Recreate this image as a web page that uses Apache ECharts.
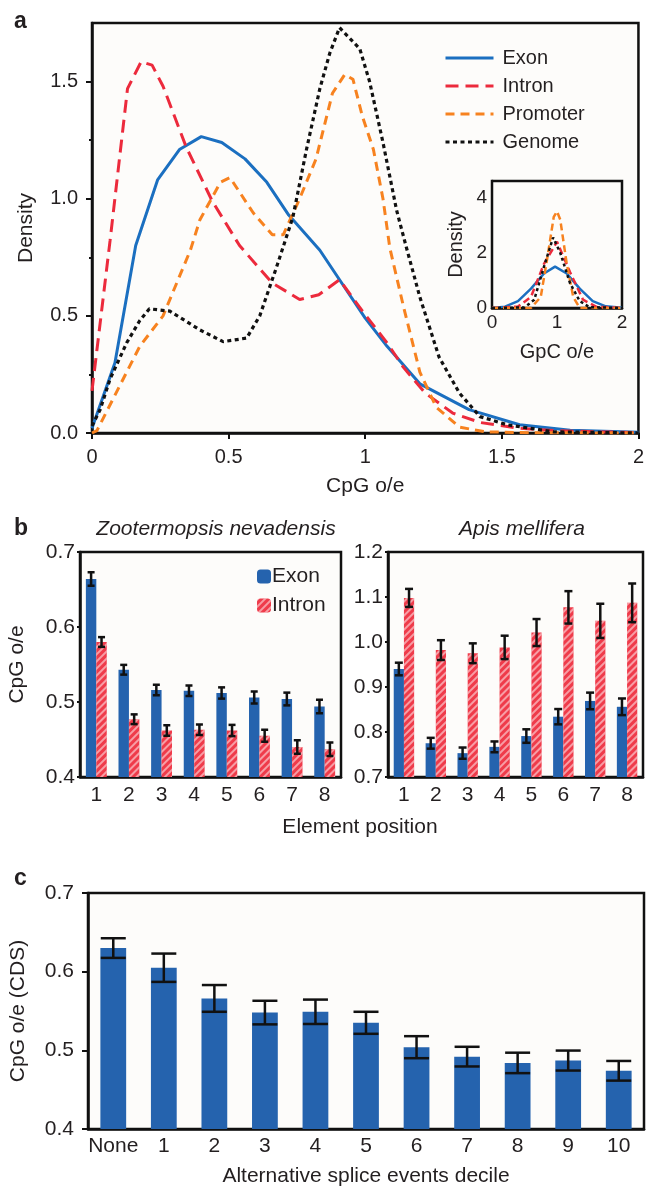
<!DOCTYPE html>
<html>
<head>
<meta charset="utf-8">
<script src="https://cdn.jsdelivr.net/npm/echarts@6/dist/echarts.min.js"></script>
<style>
html, body { margin: 0; padding: 0; background: #fff; }
#myChart { width: 647px; height: 1188px; }
</style>
</head>
<body>
<div id="myChart"></div>
<script>
// ---- panel a: density of CpG o/e, pairs [CpG o/e, density]
const exonCurve = [[0, 0.02], [0.084, 0.30], [0.16, 0.80], [0.24, 1.08], [0.32, 1.21], [0.40, 1.265], [0.475, 1.24], [0.56, 1.17], [0.64, 1.07], [0.72, 0.93], [0.834, 0.78], [0.906, 0.654], [1.0, 0.49], [1.08, 0.37], [1.2, 0.21], [1.38, 0.10], [1.565, 0.035], [1.75, 0.012], [2, 0.003]];
const intronCurve = [[0, 0.18], [0.066, 0.82], [0.13, 1.47], [0.18, 1.585], [0.22, 1.57], [0.26, 1.48], [0.345, 1.22], [0.44, 0.99], [0.54, 0.80], [0.66, 0.64], [0.76, 0.57], [0.83, 0.59], [0.906, 0.654], [0.99, 0.52], [1.08, 0.385], [1.14, 0.28], [1.22, 0.17], [1.32, 0.085], [1.42, 0.045], [1.565, 0.02], [1.7, 0.01], [1.85, 0.005], [2, 0.002]];
const promoterCurve = [[0, 0], [0.018, 0.01], [0.175, 0.37], [0.26, 0.50], [0.36, 0.78], [0.395, 0.91], [0.47, 1.07], [0.505, 1.09], [0.59, 0.94], [0.66, 0.846], [0.70, 0.846], [0.76, 1.0], [0.82, 1.17], [0.88, 1.45], [0.925, 1.53], [0.955, 1.51], [0.99, 1.35], [1.03, 1.21], [1.065, 1.0], [1.09, 0.79], [1.14, 0.54], [1.20, 0.26], [1.26, 0.11], [1.345, 0.025], [1.44, 0.005], [1.6, 0.001], [2, 0]];
const genomeCurve = [[0, 0.03], [0.03, 0.1], [0.066, 0.23], [0.127, 0.385], [0.175, 0.48], [0.21, 0.53], [0.285, 0.52], [0.395, 0.44], [0.48, 0.39], [0.566, 0.405], [0.614, 0.50], [0.676, 0.71], [0.735, 0.92], [0.785, 1.21], [0.834, 1.47], [0.87, 1.62], [0.906, 1.73], [0.98, 1.64], [1.016, 1.50], [1.065, 1.24], [1.115, 0.95], [1.15, 0.795], [1.2, 0.58], [1.27, 0.325], [1.345, 0.17], [1.42, 0.07], [1.52, 0.035], [1.69, 0.005], [2, 0]];

// inset: density of GpC o/e
const exonGpc = [[0, 0], [0.2, 0.05], [0.4, 0.25], [0.6, 0.7], [0.8, 1.25], [0.97, 1.5], [1.15, 1.25], [1.35, 0.7], [1.55, 0.25], [1.75, 0.06], [2, 0.01]];
const intronGpc = [[0, 0], [0.4, 0.05], [0.6, 0.4], [0.8, 1.6], [1.0, 2.4], [1.2, 1.3], [1.4, 0.3], [1.6, 0.05], [2, 0]];
const promoterGpc = [[0, 0], [0.6, 0], [0.75, 0.4], [0.85, 1.8], [0.95, 3.3], [1.0, 3.5], [1.05, 3.2], [1.15, 1.6], [1.25, 0.4], [1.35, 0], [2, 0]];
const genomeGpc = [[0, 0], [0.5, 0.02], [0.65, 0.3], [0.8, 1.5], [0.94, 2.55], [1.05, 2.0], [1.2, 0.9], [1.35, 0.25], [1.5, 0.03], [2, 0]];

const densityTicks = [0, 0.5, 1, 1.5];
const densityMinorTicks = [0.25, 0.75, 1.25];
const insetTicks = [0, 2, 4];

// ---- panel b: CpG o/e by element position
const positions = ['1', '2', '3', '4', '5', '6', '7', '8'];
const zooExon = [0.664, 0.543, 0.516, 0.515, 0.512, 0.506, 0.504, 0.494];
const zooExonErr = [0.009, 0.0065, 0.007, 0.007, 0.0075, 0.008, 0.0085, 0.009];
const zooIntron = [0.580, 0.477, 0.462, 0.463, 0.462, 0.455, 0.440, 0.437];
const zooIntronErr = [0.0065, 0.0065, 0.007, 0.007, 0.0075, 0.008, 0.009, 0.009];
const apisExon = [0.940, 0.775, 0.753, 0.767, 0.791, 0.834, 0.869, 0.856];
const apisExonErr = [0.014, 0.012, 0.0125, 0.012, 0.015, 0.017, 0.0185, 0.0185];
const apisIntron = [1.098, 0.982, 0.975, 0.988, 1.021, 1.077, 1.047, 1.087];
const apisIntronErr = [0.02, 0.022, 0.022, 0.026, 0.03, 0.036, 0.038, 0.043];

// ---- panel c: CpG o/e (CDS) by alternative splice decile
const deciles = ['None', '1', '2', '3', '4', '5', '6', '7', '8', '9', '10'];
const cdsValues = [0.630, 0.605, 0.566, 0.548, 0.549, 0.535, 0.504, 0.492, 0.484, 0.487, 0.474];
const cdsErr = [0.0125, 0.018, 0.017, 0.015, 0.0155, 0.014, 0.014, 0.0125, 0.013, 0.0127, 0.0125];

const ink = '#231f20';
const font = 'Liberation Sans, Arial, sans-serif';
const colors = { exon: '#1b6fc0', intron: '#ec2a3c', promoter: '#f7821f', genome: '#111111', bar: '#2563ae', hatch: '#ef3b4a' };
const hatch = { symbol: 'rect', symbolSize: 1, dashArrayX: [1, 0], dashArrayY: [2, 3], rotation: -Math.PI / 4, color: 'rgba(255,255,255,0.5)' };

// 误差线 (custom series)
function errorBars (xi, yi, vals, errs, offset, capW) {
  return {
    type: 'custom',
    xAxisIndex: xi,
    yAxisIndex: yi,
    z: 5,
    silent: true,
    data: vals.map((v, i) => [i, v - errs[i], v + errs[i]]),
    renderItem (params, api) {
      const lo = api.coord([api.value(0), api.value(1)]);
      const hi = api.coord([api.value(0), api.value(2)]);
      const band = api.size([1, 0])[0];
      const x = lo[0] + offset * band;
      const style = { stroke: '#111', lineWidth: 2.5 };
      return {
        type: 'group',
        children: [
          { type: 'line', shape: { x1: x, y1: lo[1], x2: x, y2: hi[1] }, style },
          { type: 'line', shape: { x1: x - capW / 2, y1: lo[1], x2: x + capW / 2, y2: lo[1] }, style },
          { type: 'line', shape: { x1: x - capW / 2, y1: hi[1], x2: x + capW / 2, y2: hi[1] }, style }
        ]
      };
    }
  };
}

function lineSeries (name, data, color, dash, xi, yi, width) {
  return {
    name,
    type: 'line',
    xAxisIndex: xi,
    yAxisIndex: yi,
    data,
    symbol: 'none',
    showSymbol: false,
    color,
    lineStyle: { color, width: width, type: dash, cap: 'butt' }
  };
}

const axisLine = { show: true, onZero: false, lineStyle: { color: '#111', width: 2.5 } };
const label = (size, margin) => ({ color: ink, fontSize: size, fontFamily: font, margin });
const nameStyle = (size) => ({ color: ink, fontSize: size, fontFamily: font });
const gridBox = { show: true, backgroundColor: '#fdfcfa', borderColor: '#111', borderWidth: 2.5 };
const plainTitle = { fontWeight: 'normal', color: ink, fontFamily: font };

let myChart = echarts.init(document.getElementById('myChart'));
let option = {
  animation: false,
  backgroundColor: '#ffffff',
  textStyle: { fontFamily: font },
  title: [
    { text: 'a', left: 9, top: 5, textStyle: { fontSize: 23, fontWeight: 'bold', color: ink, fontFamily: font } },
    { text: 'b', left: 9, top: 512, textStyle: { fontSize: 23, fontWeight: 'bold', color: ink, fontFamily: font } },
    { text: 'c', left: 9, top: 862, textStyle: { fontSize: 23, fontWeight: 'bold', color: ink, fontFamily: font } },
    { text: 'Zootermopsis nevadensis', left: 211, top: 514, textAlign: 'center', textStyle: Object.assign({ fontSize: 21, fontStyle: 'italic' }, plainTitle) },
    { text: 'Apis mellifera', left: 517, top: 514, textAlign: 'center', textStyle: Object.assign({ fontSize: 21, fontStyle: 'italic' }, plainTitle) },
    { text: 'Element position', left: 355, top: 812, textAlign: 'center', textStyle: Object.assign({ fontSize: 21 }, plainTitle) }
  ],
  legend: [
    {
      data: ['Exon', 'Intron', 'Promoter', 'Genome'],
      orient: 'vertical',
      left: 439,
      top: 43,
      itemWidth: 48,
      itemHeight: 18,
      itemGap: 8,
      selectedMode: false,
      itemStyle: { opacity: 0 },
      lineStyle: { width: 3 },
      textStyle: { color: ink, fontSize: 20, fontFamily: font, padding: [0, 0, 0, 4] }
    },
    {
      data: ['Exon|b', 'Intron|b'],
      orient: 'vertical',
      left: 252,
      top: 561,
      itemWidth: 14,
      itemHeight: 14,
      itemGap: 8,
      selectedMode: false,
      formatter: (n) => n.split('|')[0],
      textStyle: { color: ink, fontSize: 21, fontFamily: font, padding: [0, 0, 0, -4] }
    }
  ],
  grid: [
    Object.assign({ left: 92, top: 23, width: 547, height: 410 }, gridBox),
    Object.assign({ left: 492, top: 181, width: 130, height: 127, z: 3 }, gridBox),
    Object.assign({ left: 80, top: 552, width: 261, height: 225 }, gridBox),
    Object.assign({ left: 388, top: 552, width: 255, height: 225 }, gridBox),
    Object.assign({ left: 88, top: 893, width: 556, height: 239 }, gridBox)
  ],
  xAxis: [
    {
      gridIndex: 0, type: 'value', min: 0, max: 2, interval: 0.5,
      name: 'CpG o/e', nameLocation: 'middle', nameGap: 43, nameTextStyle: nameStyle(21),
      axisLine, axisTick: { show: true, length: 6, lineStyle: { color: '#111', width: 2 } },
      axisLabel: label(20, 14), splitLine: { show: false }
    },
    {
      gridIndex: 1, type: 'value', min: 0, max: 2, interval: 1,
      name: 'GpC o/e', nameLocation: 'middle', nameGap: 34, nameTextStyle: nameStyle(20),
      axisLine, axisTick: { show: true, inside: true, length: 3, lineStyle: { color: '#111', width: 1.5 } },
      minorTick: { show: true, splitNumber: 2, length: 3, lineStyle: { color: '#111', width: 1.5 } },
      axisLabel: label(19, 5), splitLine: { show: false }
    },
    {
      gridIndex: 2, type: 'category', data: positions,
      axisLine, axisTick: { show: false }, axisLabel: label(21, 8)
    },
    {
      gridIndex: 3, type: 'category', data: positions,
      axisLine, axisTick: { show: false }, axisLabel: label(21, 8)
    },
    {
      gridIndex: 4, type: 'category', data: deciles,
      name: 'Alternative splice events decile', nameLocation: 'middle', nameGap: 37, nameTextStyle: nameStyle(21),
      axisLine, axisTick: { show: false }, axisLabel: Object.assign(label(21, 7), { interval: 0 })
    }
  ],
  yAxis: [
    {
      gridIndex: 0, type: 'value', min: 0, max: 1.75,
      name: 'Density', nameLocation: 'middle', nameGap: 55, nameTextStyle: nameStyle(21),
      axisLine,
      axisTick: { show: true, length: 6, customValues: densityTicks, lineStyle: { color: '#111', width: 2 } },
      axisLabel: Object.assign(label(20, 14), { customValues: densityTicks, formatter: (v) => v.toFixed(1) }),
      splitLine: { show: false }
    },
    {
      gridIndex: 0, type: 'value', min: 0, max: 1.75, position: 'left',
      axisLine: { show: false },
      axisTick: { show: true, length: 3, customValues: densityMinorTicks, lineStyle: { color: '#111', width: 2 } },
      axisLabel: { show: false }, splitLine: { show: false }
    },
    {
      gridIndex: 1, type: 'value', min: 0, max: 4.6,
      name: 'Density', nameLocation: 'middle', nameGap: 26, nameTextStyle: nameStyle(20),
      axisLine,
      axisTick: { show: true, inside: true, length: 3, customValues: insetTicks, lineStyle: { color: '#111', width: 1.5 } },
      axisLabel: Object.assign(label(19, 5), { customValues: insetTicks }),
      splitLine: { show: false }
    },
    {
      gridIndex: 2, type: 'value', min: 0.4, max: 0.7, interval: 0.1,
      name: 'CpG o/e', nameLocation: 'middle', nameGap: 52, nameTextStyle: nameStyle(21),
      axisLine, axisTick: { show: true, length: 3, lineStyle: { color: '#111', width: 2 } },
      axisLabel: Object.assign(label(21, 5), { formatter: (v) => v.toFixed(1) }),
      splitLine: { show: false }
    },
    {
      gridIndex: 3, type: 'value', min: 0.7, max: 1.2, interval: 0.1,
      axisLine, axisTick: { show: true, length: 3, lineStyle: { color: '#111', width: 2 } },
      axisLabel: Object.assign(label(21, 5), { formatter: (v) => v.toFixed(1) }),
      splitLine: { show: false }
    },
    {
      gridIndex: 4, type: 'value', min: 0.4, max: 0.7, interval: 0.1,
      name: 'CpG o/e (CDS)', nameLocation: 'middle', nameGap: 59, nameTextStyle: nameStyle(21),
      axisLine, axisTick: { show: true, length: 6, lineStyle: { color: '#111', width: 2 } },
      axisLabel: Object.assign(label(21, 14), { formatter: (v) => v.toFixed(1) }),
      splitLine: { show: false }
    }
  ],
  series: [
    lineSeries('Exon', exonCurve, colors.exon, 'solid', 0, 0, 3),
    lineSeries('Intron', intronCurve, colors.intron, [13, 7], 0, 0, 3),
    lineSeries('Promoter', promoterCurve, colors.promoter, [9, 6], 0, 0, 3),
    lineSeries('Genome', genomeCurve, colors.genome, [4, 3.5], 0, 0, 3.2),
    lineSeries('Exon', exonGpc, colors.exon, 'solid', 1, 2, 2.5),
    lineSeries('Intron', intronGpc, colors.intron, [7, 4], 1, 2, 2.5),
    lineSeries('Promoter', promoterGpc, colors.promoter, [7, 4], 1, 2, 2.5),
    lineSeries('Genome', genomeGpc, colors.genome, [3, 3], 1, 2, 2.5),
    {
      name: 'Exon|b', type: 'bar', xAxisIndex: 2, yAxisIndex: 3, data: zooExon,
      barWidth: '32%', barGap: '0%', itemStyle: { color: colors.bar }
    },
    {
      name: 'Intron|b', type: 'bar', xAxisIndex: 2, yAxisIndex: 3, data: zooIntron,
      barWidth: '32%', barGap: '0%', itemStyle: { color: colors.hatch, decal: hatch }
    },
    errorBars(2, 3, zooExon, zooExonErr, -0.16, 7),
    errorBars(2, 3, zooIntron, zooIntronErr, 0.16, 7),
    {
      name: 'Exon|b', type: 'bar', xAxisIndex: 3, yAxisIndex: 4, data: apisExon,
      barWidth: '32%', barGap: '0%', itemStyle: { color: colors.bar }
    },
    {
      name: 'Intron|b', type: 'bar', xAxisIndex: 3, yAxisIndex: 4, data: apisIntron,
      barWidth: '32%', barGap: '0%', itemStyle: { color: colors.hatch, decal: hatch }
    },
    errorBars(3, 4, apisExon, apisExonErr, -0.16, 8),
    errorBars(3, 4, apisIntron, apisIntronErr, 0.16, 8),
    {
      name: 'CDS', type: 'bar', xAxisIndex: 4, yAxisIndex: 5, data: cdsValues,
      barWidth: '51%', itemStyle: { color: colors.bar }
    },
    errorBars(4, 5, cdsValues, cdsErr, 0, 25)
  ]
};
myChart.setOption(option);
</script>
</body>
</html>
